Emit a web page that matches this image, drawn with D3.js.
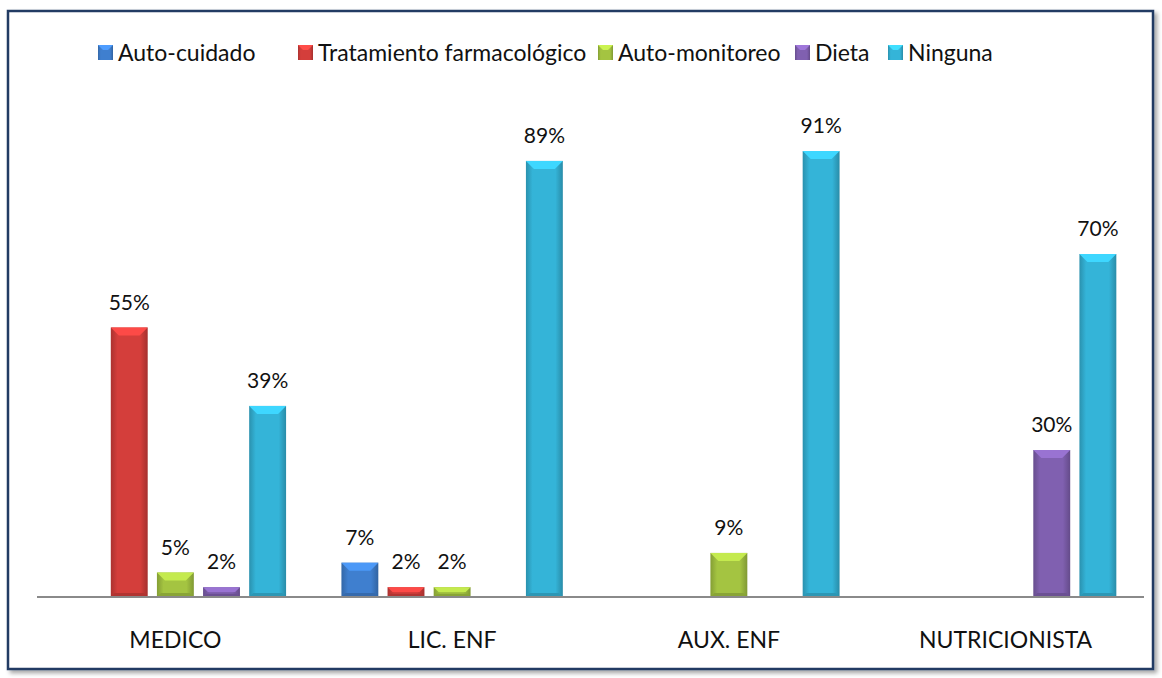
<!DOCTYPE html>
<html>
<head>
<meta charset="utf-8">
<script src="https://cdn.jsdelivr.net/npm/d3@7"></script>
<style>
  body { margin: 0; background: #fff; }
  text { font-family: Lato, "Open Sans", sans-serif; }
</style>
</head>
<body>
<div id="my_dataviz"></div>
<script>
// data
var categories = ["MEDICO", "LIC. ENF", "AUX. ENF", "NUTRICIONISTA"];
var seriesNames = ["Auto-cuidado", "Tratamiento farmacológico", "Auto-monitoreo", "Dieta", "Ninguna"];
var autoCuidado = [0, 7, 0, 0];
var tratamiento = [55, 2, 0, 0];
var autoMonitoreo = [5, 2, 9, 0];
var dieta = [2, 0, 0, 30];
var ninguna = [39, 89, 91, 70];

var allSeries = [autoCuidado, tratamiento, autoMonitoreo, dieta, ninguna];
var baseColors = ["#3f7fcf", "#d43e3b", "#a4c441", "#8060b0", "#34b4d8"];

var W = 1162, H = 678;

var svg = d3.select("#my_dataviz")
  .append("svg")
    .attr("width", W)
    .attr("height", H);

var defs = svg.append("defs");

// drop shadow for the frame
var shadow = defs.append("filter").attr("id", "shadow")
    .attr("x", "-5%").attr("y", "-5%").attr("width", "110%").attr("height", "110%");
shadow.append("feDropShadow")
    .attr("dx", 3).attr("dy", 3).attr("stdDeviation", 2)
    .attr("flood-color", "#000").attr("flood-opacity", 0.35);

// frame
svg.append("rect")
  .attr("x", 8).attr("y", 11)
  .attr("width", 1145).attr("height", 658)
  .attr("fill", "#fff")
  .attr("stroke", "#243b63")
  .attr("stroke-width", 2.5)
  .attr("filter", "url(#shadow)");

// gradients: darker edges, lighter middle
baseColors.forEach(function(c, i) {
  var g = defs.append("linearGradient").attr("id", "grad" + i)
      .attr("x1", "0%").attr("x2", "100%").attr("y1", "0%").attr("y2", "0%");
  var col = d3.color(c);
  g.append("stop").attr("offset", "0%").attr("stop-color", col.darker(0.6));
  g.append("stop").attr("offset", "18%").attr("stop-color", col);
  g.append("stop").attr("offset", "80%").attr("stop-color", col);
  g.append("stop").attr("offset", "100%").attr("stop-color", col.darker(0.7));
});

var baseline = 597;

var x0 = d3.scaleBand()
  .domain(categories)
  .range([37, 1144])
  .paddingInner(0.2)
  .paddingOuter(0.1);

var x1 = d3.scaleBand()
  .domain(d3.range(seriesNames.length))
  .range([0, x0.bandwidth()])
  .paddingInner(0.2);

var y = d3.scaleLinear()
  .domain([0, 100])
  .range([baseline, baseline - 490]);

// bars
var rows = [];
categories.forEach(function(cat, ci) {
  allSeries.forEach(function(s, si) {
    rows.push({cat: cat, si: si, v: s[ci]});
  });
});

var barG = svg.append("g");

var bars = barG.selectAll("g.bar")
  .data(rows.filter(function(d) { return d.v > 0; }))
  .enter()
  .append("g")
    .attr("class", "bar");

bars.append("rect")
  .attr("x", function(d) { return x0(d.cat) + x1(d.si); })
  .attr("y", function(d) { return y(d.v); })
  .attr("width", x1.bandwidth())
  .attr("height", function(d) { return baseline - y(d.v); })
  .attr("fill", function(d) { return "url(#grad" + d.si + ")"; });

// top bevel
bars.append("path")
  .attr("d", function(d) {
    var bx = x0(d.cat) + x1(d.si), bw = x1.bandwidth(), by = y(d.v);
    var bev = Math.min(8, (baseline - by) / 2);
    return "M" + bx + "," + by + "L" + (bx + bw) + "," + by +
      "L" + (bx + bw - bev) + "," + (by + bev) + "L" + (bx + bev) + "," + (by + bev) + "Z";
  })
  .attr("fill", function(d) { return d3.color(baseColors[d.si]).brighter(0.5); });

// bottom bevel
bars.append("path")
  .attr("d", function(d) {
    var bx = x0(d.cat) + x1(d.si), bw = x1.bandwidth(), by = y(d.v);
    var bev = Math.min(4, (baseline - by) / 3);
    return "M" + bx + "," + baseline + "L" + (bx + bw) + "," + baseline +
      "L" + (bx + bw - bev) + "," + (baseline - bev) + "L" + (bx + bev) + "," + (baseline - bev) + "Z";
  })
  .attr("fill", function(d) { return d3.color(baseColors[d.si]).darker(0.5); });

// value labels
bars.append("text")
  .attr("x", function(d) { return x0(d.cat) + x1(d.si) + x1.bandwidth() / 2; })
  .attr("y", function(d) { return y(d.v) - 18; })
  .attr("text-anchor", "middle")
  .style("font-size", "21px")
  .attr("fill", "#111")
  .text(function(d) { return d.v + "%"; });

// x axis
var xAxis = svg.append("g")
  .attr("transform", "translate(0," + baseline + ")")
  .call(d3.axisBottom(x0).tickSize(0).tickPadding(0));
xAxis.select(".domain").attr("stroke", "#8a8a8a").attr("stroke-width", 2)
  .attr("d", "M37,0H1144");
xAxis.selectAll("text")
  .attr("y", 51)
  .attr("dy", 0)
  .style("font-size", "23px")
  .style("font-family", "Lato, 'Open Sans', sans-serif")
  .attr("fill", "#111");

// legend
var legendX = [98, 298, 598, 795, 888];
var legend = svg.selectAll("g.legend")
  .data(seriesNames)
  .enter()
  .append("g")
    .attr("class", "legend")
    .attr("transform", function(d, i) { return "translate(" + legendX[i] + ",45)"; });

legend.append("rect")
  .attr("x", 0).attr("y", 0)
  .attr("width", 15).attr("height", 15)
  .attr("fill", function(d, i) { return "url(#grad" + i + ")"; });
legend.append("path")
  .attr("d", "M0,0L15,0L10,5L5,5Z")
  .attr("fill", function(d, i) { return d3.color(baseColors[i]).brighter(0.6); });

legend.append("text")
  .attr("x", 20)
  .attr("y", 16)
  .style("font-size", "23px")
  .attr("fill", "#111")
  .text(function(d) { return d; });
</script>
</body>
</html>
